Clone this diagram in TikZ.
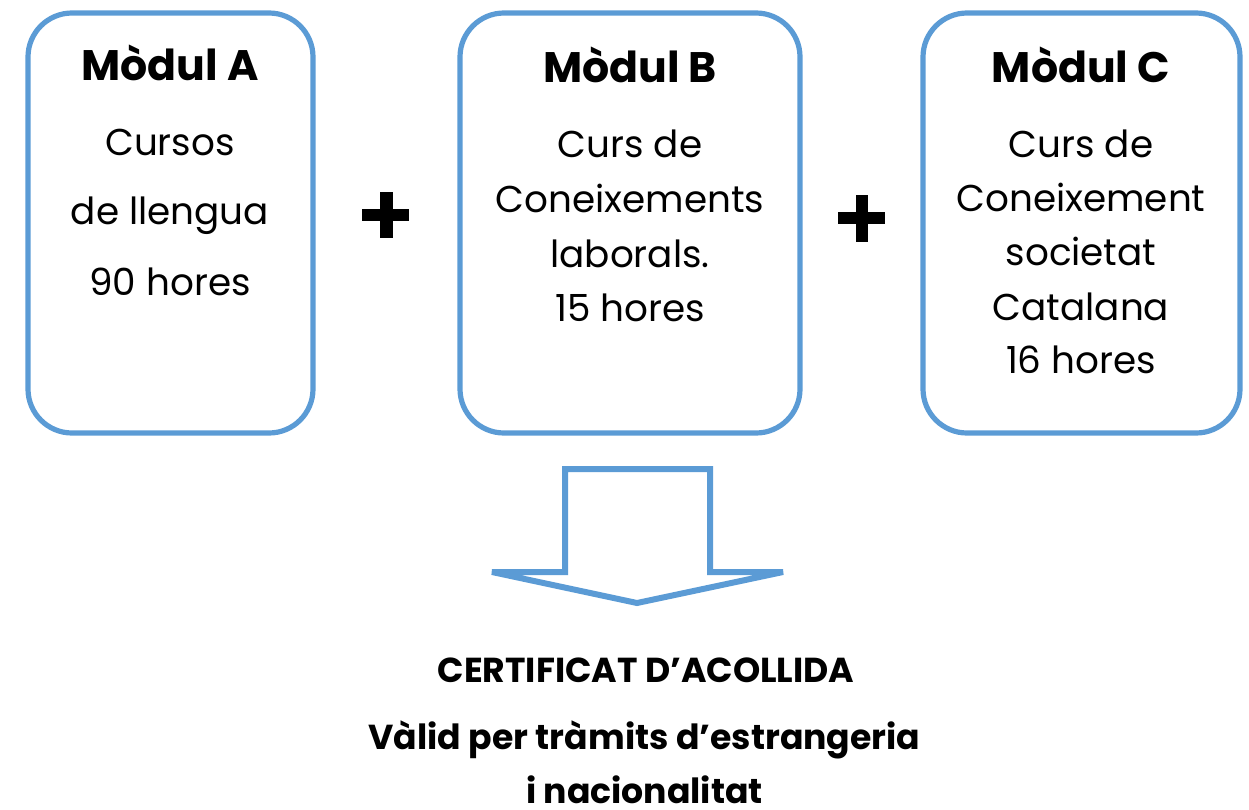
\documentclass[tikz,border=0pt]{standalone}
\usepackage{fontspec}
\setmainfont{Poppins}
\definecolor{boxblue}{HTML}{5B9BD5}
\tikzset{
  modbox/.style={draw=boxblue, line width=3.9pt, rounded corners=33pt, minimum height=315pt, inner sep=0pt},
  bodytxt/.style={font=\fontsize{28}{33}\selectfont, anchor=base, inner sep=0pt},
  titletxt/.style={font=\bfseries\fontsize{32}{38}\selectfont, anchor=base, inner sep=0pt},
  bottomtxt/.style={font=\bfseries\fontsize{26}{30}\selectfont, anchor=base, inner sep=0pt},
  bigarrow/.style={draw=boxblue, line width=4.5pt, miter limit=2}
}
\begin{document}
\begin{tikzpicture}[x=0.75pt, y=-0.75pt]
\useasboundingbox (0,0) rectangle (1249,810);
% boxes
\node[modbox, minimum width=213.75pt] (A) at (170.5,223) {};
\node[modbox, minimum width=255pt] (B) at (630,223) {};
\node[modbox, minimum width=237.75pt] (C) at (1081.5,223) {};
% box A text
\node[titletxt] (a0) at (170,80) {Mòdul A};
\node[bodytxt] (a1) at (170,155) {Cursos};
\node[bodytxt] (a2) at (170,224) {de llengua};
\node[bodytxt] (a3) at (170,295) {90 hores};
% box B text
\node[titletxt] (b0) at (630,82) {Mòdul B};
\node[bodytxt] (b1) at (630,157) {Curs de};
\node[bodytxt] (b2) at (630,212) {Coneixements};
\node[bodytxt] (b3) at (630,267) {laborals.};
\node[bodytxt] (b4) at (630,321) {15 hores};
% box C text
\node[titletxt] (c0) at (1081,82) {Mòdul C};
\node[bodytxt] (c1) at (1081,157) {Curs de};
\node[bodytxt] (c2) at (1081,211) {Coneixement};
\node[bodytxt] (c3) at (1081,265) {societat};
\node[bodytxt] (c4) at (1081,320) {Catalana};
\node[bodytxt] (c5) at (1081,373) {16 hores};
% plus signs
\fill (362,209) rectangle (409,221);
\fill (379.5,192) rectangle (392.5,238);
\fill (838,212) rectangle (885,224);
\fill (855.5,195) rectangle (867.5,242);
% block arrow
\draw[bigarrow] (565,469) -- (710,469) -- (710,572) -- (783,572) -- (637,603) -- (492,572) -- (565,572) -- cycle;
% bottom text
\node[bottomtxt] (t1) at (646,682) {CERTIFICAT D’ACOLLIDA};
\node[bottomtxt] (t2) at (644.5,749) {Vàlid per tràmits d’estrangeria};
\node[bottomtxt] (t3) at (644.5,803) {i nacionalitat};
\end{tikzpicture}
\end{document}
